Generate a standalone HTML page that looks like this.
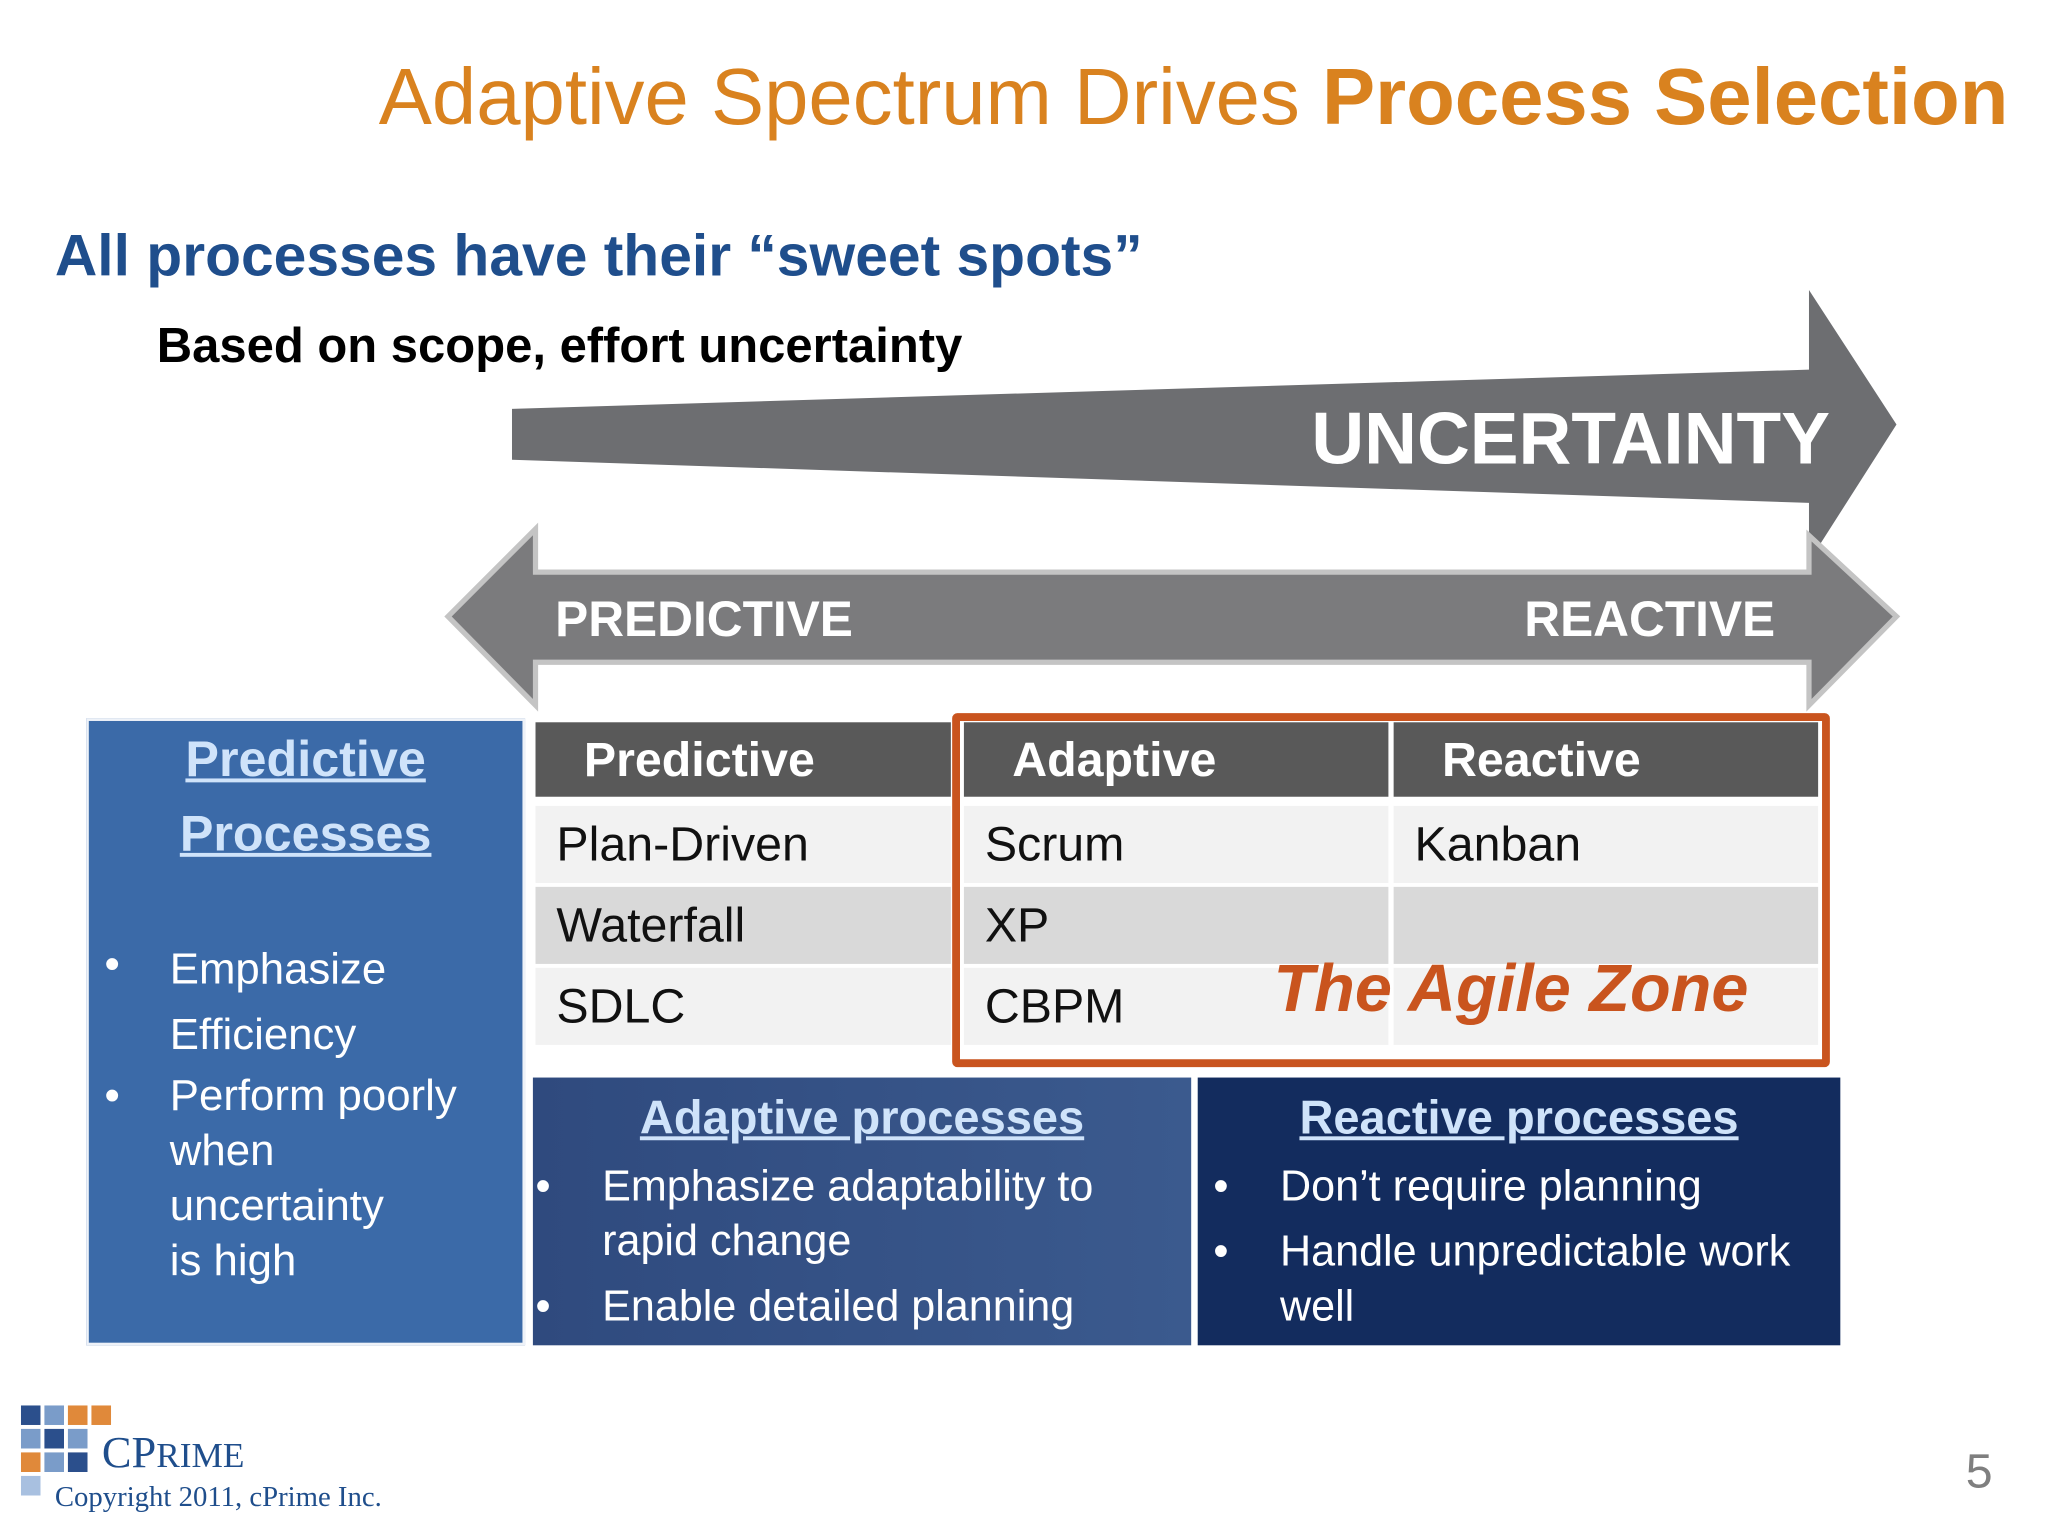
<!DOCTYPE html>
<html><head><meta charset="utf-8"><style>
html,body{margin:0;padding:0;width:2048px;height:1536px;overflow:hidden;background:#fff}
#s{position:absolute;left:0;top:0;width:1568px;height:1176px;transform:scale(1.30612);transform-origin:0 0;font-family:"Liberation Sans",sans-serif}
.a{position:absolute;white-space:nowrap}
.cell{position:absolute;font-size:37px;color:#111;line-height:59px;padding-left:16px;box-sizing:border-box}
.hd{position:absolute;background:#595959;color:#fff;font-weight:bold;font-size:37px;line-height:57px;padding-left:37px;box-sizing:border-box}
.bl{position:absolute;color:#fff;font-size:33px;line-height:42px;white-space:nowrap}
.bl div{white-space:nowrap}
</style></head><body>
<div id="s">
<div class="a" style="left:290px;top:39px;font-size:61px;color:#D9821F">Adaptive Spectrum Drives <b>Process Selection</b></div>
<div class="a" style="left:42px;top:170px;font-size:45px;font-weight:bold;color:#1F4E8C">All processes have their “sweet spots”</div>
<div class="a" style="left:120px;top:243px;font-size:37.5px;font-weight:bold;color:#000">Based on scope, effort uncertainty</div>
<svg class="a" style="left:0;top:0" width="1568" height="1176">
<polygon points="392,313 1385,283 1385,222 1452,325 1385,430 1385,385 392,352" fill="#6d6e71"/>
<polygon points="343,472 410,405 410,438 1385,438 1385,410 1452,472 1385,540 1385,507 410,507 410,540" fill="#7b7b7d" stroke="#c4c4c4" stroke-width="4"/>
<text x="1004" y="355" font-family="Liberation Sans" font-weight="bold" font-size="56" fill="#fff">UNCERTAINTY</text>
<text x="425" y="487" font-family="Liberation Sans" font-weight="bold" font-size="38" fill="#fff">PREDICTIVE</text>
<text x="1167" y="487" font-family="Liberation Sans" font-weight="bold" font-size="38" fill="#fff">REACTIVE</text>
</svg>
<div class="a" style="left:66px;top:550px;width:336px;height:480px;background:#3B6AA8;border:2px solid #eef2f8;box-sizing:border-box"></div>
<div class="a" style="left:66px;top:553px;width:336px;text-align:center;font-size:38.5px;line-height:57px;font-weight:bold;color:#cfe3fa;text-decoration:underline">Predictive<br>Processes</div>
<div class="bl" style="left:80px;top:718px;font-size:33.5px">
<div style="position:absolute;left:0;top:0">•</div><div style="position:absolute;left:50px;top:0;line-height:50px">Emphasize<br>Efficiency</div>
<div style="position:absolute;left:0;top:101px">•</div><div style="position:absolute;left:50px;top:101px">Perform poorly<br>when<br>uncertainty<br>is high</div>
</div>
<div class="hd" style="left:410px;top:553px;width:318px;height:57px">Predictive</div>
<div class="hd" style="left:738px;top:553px;width:325px;height:57px">Adaptive</div>
<div class="hd" style="left:1067px;top:553px;width:325px;height:57px">Reactive</div>
<div class="cell" style="left:410px;top:617px;width:318px;height:59px;background:#f2f2f2">Plan-Driven</div>
<div class="cell" style="left:738px;top:617px;width:325px;height:59px;background:#f2f2f2">Scrum</div>
<div class="cell" style="left:1067px;top:617px;width:325px;height:59px;background:#f2f2f2">Kanban</div>
<div class="cell" style="left:410px;top:679px;width:318px;height:59px;background:#d9d9d9">Waterfall</div>
<div class="cell" style="left:738px;top:679px;width:325px;height:59px;background:#d9d9d9">XP</div>
<div class="cell" style="left:1067px;top:679px;width:325px;height:59px;background:#d9d9d9"></div>
<div class="cell" style="left:410px;top:741px;width:318px;height:59px;background:#f2f2f2">SDLC</div>
<div class="cell" style="left:738px;top:741px;width:325px;height:59px;background:#f2f2f2">CBPM</div>
<div class="cell" style="left:1067px;top:741px;width:325px;height:59px;background:#f2f2f2"></div>
<div class="a" style="left:729px;top:546px;width:672px;height:271px;border:6px solid #C9541E;border-radius:4px;box-sizing:border-box"></div>
<div class="a" style="left:975px;top:727px;font-size:51px;font-weight:bold;font-style:italic;color:#C9541E">The Agile Zone</div>
<div class="a" style="left:408px;top:825px;width:504px;height:205px;background:linear-gradient(90deg,#2f4a7e,#3b5a8e)"></div>
<div class="a" style="left:408px;top:835px;width:504px;text-align:center;font-size:36px;font-weight:bold;color:#cfe3fa;text-decoration:underline">Adaptive processes</div>
<div class="bl" style="left:410px;top:887px">
<div style="position:absolute;left:0;top:0">•</div><div style="position:absolute;left:51px;top:0">Emphasize adaptability to<br>rapid change</div>
<div style="position:absolute;left:0;top:92px">•</div><div style="position:absolute;left:51px;top:92px">Enable detailed planning</div>
</div>
<div class="a" style="left:917px;top:825px;width:492px;height:205px;background:#132C5E"></div>
<div class="a" style="left:917px;top:835px;width:492px;text-align:center;font-size:36px;font-weight:bold;color:#cfe3fa;text-decoration:underline">Reactive processes</div>
<div class="bl" style="left:929px;top:887px">
<div style="position:absolute;left:0;top:0">•</div><div style="position:absolute;left:51px;top:0">Don’t require planning</div>
<div style="position:absolute;left:0;top:50px">•</div><div style="position:absolute;left:51px;top:50px">Handle unpredictable work<br>well</div>
</div>
<svg class="a" style="left:16px;top:1076px" width="72" height="70">
<rect x="0" y="0" width="15" height="15" fill="#2b4f8c"/><rect x="18" y="0" width="15" height="15" fill="#7a9cc9"/><rect x="36" y="0" width="15" height="15" fill="#e0893a"/><rect x="54" y="0" width="15" height="15" fill="#e0893a"/>
<rect x="0" y="18" width="15" height="15" fill="#7a9cc9"/><rect x="18" y="18" width="15" height="15" fill="#2b4f8c"/><rect x="36" y="18" width="15" height="15" fill="#7a9cc9"/>
<rect x="0" y="36" width="15" height="15" fill="#e0893a"/><rect x="18" y="36" width="15" height="15" fill="#7a9cc9"/><rect x="36" y="36" width="15" height="15" fill="#2b4f8c"/>
<rect x="0" y="54" width="15" height="15" fill="#a8c0e0"/>
</svg>
<div class="a" style="left:78px;top:1094px;font-family:'Liberation Serif',serif;font-size:34px;color:#1F4E8C">CP<span style="font-size:27px">RIME</span></div>
<div class="a" style="left:42px;top:1133px;font-family:'Liberation Serif',serif;font-size:22px;color:#1F4E8C">Copyright 2011, cPrime Inc.</div>
<div class="a" style="left:1505px;top:1106px;font-size:37px;color:#7f7f7f">5</div>
</div>
</body></html>
